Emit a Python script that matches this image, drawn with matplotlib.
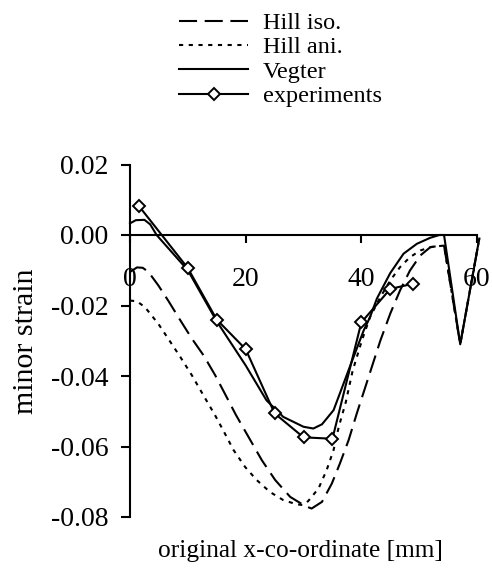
import matplotlib
matplotlib.use("Agg")
import matplotlib.pyplot as plt

plt.rcParams['font.family'] = ['Liberation Serif', 'DejaVu Serif']
plt.rcParams['axes.unicode_minus'] = False
plt.rcParams['lines.scale_dashes'] = False

# Hill isotropic model
iso_x = [0, 1.2, 2.2, 3.2, 4.9, 6.6, 8.7, 10.7, 12.7, 14.7, 16.4, 18.3, 20.6, 22.8,
         25.1, 27.7, 30.3, 31.4, 33.2, 34.9, 36.3, 37.8, 39.2, 40.7, 41.8, 43.3, 45.0,
         46.7, 48.4, 50.2, 51.9, 53.6, 54.3, 57.1, 60.4]
iso_y = [-0.0105, -0.0092, -0.0093, -0.0105, -0.0143, -0.0186, -0.0242, -0.0294, -0.0341,
         -0.0397, -0.0450, -0.0510, -0.0576, -0.0639, -0.0695, -0.0743, -0.0769, -0.0776,
         -0.0757, -0.0705, -0.0648, -0.0582, -0.0507, -0.0431, -0.0375, -0.0299, -0.0223,
         -0.0157, -0.0101, -0.0058, -0.0035, -0.0030, -0.0030, -0.0310, -0.0010]

# Hill anisotropic model
ani_x = [0, 1.2, 2.6, 4.9, 6.6, 8.7, 10.7, 12.7, 14.7, 16.4, 17.9, 19.9, 21.9, 24.2,
         26.5, 28.8, 29.8, 30.8, 32.6, 34.0, 35.2, 36.1, 37.3, 38.5, 40.1, 41.5, 43.3,
         45.0, 46.7, 48.4, 50.2, 52.0, 54.3, 57.1, 60.4]
ani_y = [-0.0186, -0.0188, -0.0205, -0.0252, -0.0294, -0.0346, -0.0398, -0.0455, -0.0511,
         -0.0563, -0.0610, -0.0658, -0.0695, -0.0729, -0.0752, -0.0764, -0.0766, -0.0755,
         -0.0719, -0.0667, -0.0610, -0.0544, -0.0475, -0.0385, -0.0299, -0.0233, -0.0176,
         -0.0129, -0.0091, -0.0063, -0.0044, -0.0034, -0.0030, -0.0310, -0.0010]

# Vegter model
veg_x = [0, 1.0, 2.5, 3.5, 4.6, 10.0, 15.0, 20.0, 23.6, 26.5, 30.0, 31.7, 33.2, 35.2,
         38.1, 40.4, 41.5, 42.7, 45.0, 47.3, 49.6, 51.9, 53.5, 54.3, 57.1, 60.4]
veg_y = [0.0033, 0.0042, 0.0043, 0.0030, 0.0, -0.0100, -0.0245, -0.0370, -0.0469, -0.0516,
         -0.0544, -0.0549, -0.0537, -0.0497, -0.0370, -0.0271, -0.0233, -0.0180, -0.0108,
         -0.0053, -0.0025, -0.0008, 0.0, 0.0, -0.0310, -0.0010]

# measured values
exp_x = [1.6, 10, 15, 20, 25, 30, 35, 40, 45, 49]
exp_y = [0.0081, -0.0094, -0.0240, -0.0324, -0.0506, -0.0574, -0.0578, -0.0248, -0.0153, -0.0138]

x_ticks = [0, 20, 40, 60]
x_tick_labels = ["0", "20", "40", "60"]
y_ticks = [-0.08, -0.06, -0.04, -0.02, 0.00, 0.02]

W, H = 492, 569
fig = plt.figure(figsize=(W / 100, H / 100), dpi=100)
ax = fig.add_axes([130 / W, 1 - 517 / H, 347 / W, 352.5 / H])
ax.set_xlim(0, 60)
ax.set_ylim(-0.08, 0.02)

lw = 1.5
ax.plot(iso_x, iso_y, color='black', lw=lw, dashes=(13, 5.5), label='Hill iso.', clip_on=False)
ax.plot(ani_x, ani_y, color='black', lw=lw, dashes=(3, 4), label='Hill ani.', clip_on=False)
ax.plot(veg_x, veg_y, color='black', lw=lw, label='Vegter', clip_on=False)
ax.plot(exp_x, exp_y, color='black', lw=lw, marker='D', ms=6.2, mfc='white', mec='black',
        mew=1.4, label='experiments', clip_on=False, zorder=5)

for s in ['top', 'right']:
    ax.spines[s].set_visible(False)
ax.spines['bottom'].set_position(('data', 0))
for s in ['left', 'bottom']:
    ax.spines[s].set_linewidth(1.5)

ax.set_xticks(x_ticks)
ax.set_xticklabels(x_tick_labels)
ax.set_yticks(y_ticks)
ax.set_yticklabels([f"{v:.2f}" for v in y_ticks])
ax.tick_params(axis='x', direction='out', length=6, width=1.5, pad=17, labelsize=20)
ax.tick_params(axis='y', direction='out', length=6.5, width=1.5, pad=9, labelsize=20)

fig.text(300 / W, 1 - 551 / H, 'original x-co-ordinate [mm]', ha='center', va='center', fontsize=18.3)
fig.text(26 / W, 1 - 341 / H, 'minor strain', ha='center', va='center', rotation=90, fontsize=21.5)

leg = fig.legend(loc='upper left', bbox_to_anchor=(179 / W, 1 - 12 / H), frameon=False,
                 fontsize=17.5, handlelength=2.85, handletextpad=0.6, labelspacing=0.1,
                 borderpad=0, borderaxespad=0)

fig.savefig('out.png', dpi=100)
